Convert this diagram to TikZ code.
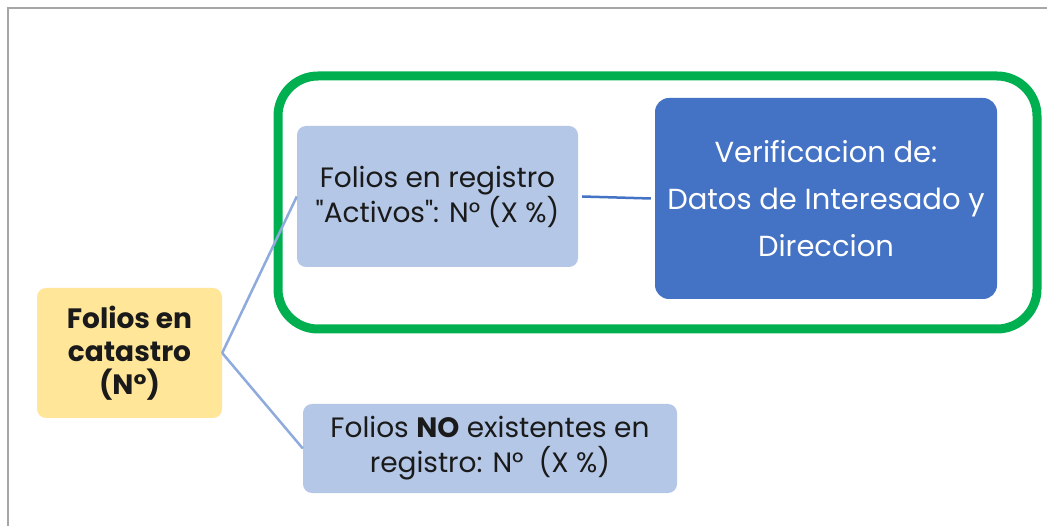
\documentclass[tikz,border=0pt]{standalone}
\usepackage{fontspec}
\setmainfont{Poppins}
\definecolor{frameGray}{HTML}{A6A6A6}
\definecolor{yellowFill}{HTML}{FFE699}
\definecolor{lightBlue}{HTML}{B4C7E7}
\definecolor{darkBlue}{HTML}{4472C4}
\definecolor{greenLine}{HTML}{00B050}
\definecolor{linkLight}{HTML}{8FAADC}
\definecolor{textDark}{HTML}{1A1A1A}
\begin{document}
\begin{tikzpicture}[x=1pt,y=-1pt,
  boxbase/.style={rounded corners=9pt, align=center, inner sep=0pt, text=textDark},
  lightbox/.style={boxbase, fill=lightBlue, font=\fontsize{28}{35}\selectfont},
  yellowbox/.style={boxbase, fill=yellowFill, font=\fontsize{28}{33}\selectfont\bfseries},
  darkbox/.style={boxbase, rounded corners=14pt, fill=darkBlue, text=white, font=\fontsize{29}{47}\selectfont},
  linkline/.style={line width=2.5pt, draw=linkLight},
  linkdark/.style={line width=2.5pt, draw=darkBlue}
]
\useasboundingbox (0,0) rectangle (1047,526);
\fill[white] (0,0) rectangle (1047,526);
% frame (cut at right and bottom)
\coordinate (ftl) at (8,8);
\coordinate (ftr) at (1047,8);
\coordinate (fbl) at (8,526);
\draw[frameGray, line width=1.5pt] (fbl) -- (ftl) -- (ftr);
% green group
\draw[greenLine, line width=9pt, rounded corners=40pt] (278,76) rectangle (1037,329);
% nodes
\node[yellowbox, minimum width=185pt, minimum height=130pt] (cat) at (129.5,353) {Folios en\\catastro\\(N°)};
\node[lightbox, minimum width=281pt, minimum height=141pt] (act) at (437.5,196.5) {Folios en registro\\\textquotedbl Activos\textquotedbl: N° (X \%)};
\node[darkbox, minimum width=342pt, minimum height=201pt] (ver) at (826,198.5) {Verificacion de:\\Datos de Interesado y\\Direccion};
\node[lightbox, minimum width=374pt, minimum height=89pt] (noex) at (490,448.5) {Folios \textbf{NO} existentes en\\registro: N°~~(X \%)};
% connectors
\draw[linkline] (cat.east) -- (act.west);
\draw[linkline] (cat.east) -- (noex.west);
\draw[linkdark] ([xshift=4pt]act.east) -- ([xshift=-4pt]ver.west);
\end{tikzpicture}
\end{document}
